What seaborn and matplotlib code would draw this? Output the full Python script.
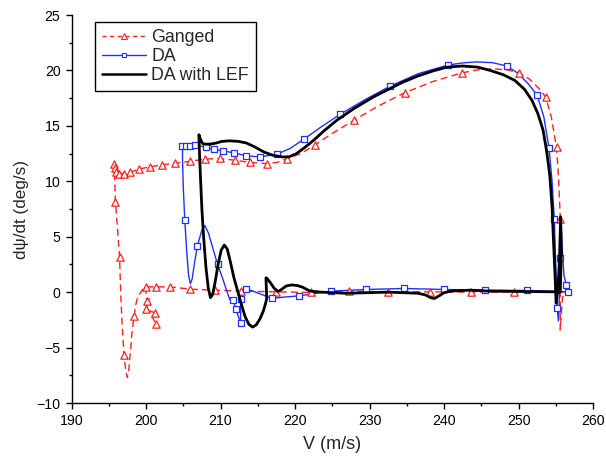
import matplotlib
matplotlib.use("Agg")
import matplotlib.pyplot as plt
from matplotlib.lines import Line2D
from matplotlib.ticker import MultipleLocator
import seaborn as sns

# ---------------- data ----------------
# Ganged: dashed path (main loop) and a small zig-zag branch
gang_line_v = [195.74, 195.8, 196.0, 196.4, 197.1, 197.85, 199.06, 200.5, 202.15, 203.9,
               205.9, 207.9, 209.9, 211.9, 214.0, 216.2, 217.6, 218.9, 220.8, 222.7,
               225.2, 227.9, 231.2, 234.7, 238.5, 242.4, 244.5, 246.5, 248.5, 250.1,
               251.5, 252.7, 253.65, 254.4, 255.1, 255.4, 255.6, 255.6, 255.6, 255.9,
               256.2, 255.0, 249.4, 243.6, 238.1, 232.5, 227.3, 222.1, 217.5, 212.8,
               209.3, 205.9, 203.2, 201.3, 199.96, 199.5, 198.9, 198.6, 198.4, 198.1,
               197.85, 197.65, 197.5, 197.3, 197.05, 196.8, 196.6, 196.45, 196.2, 195.9,
               195.8, 195.74]
gang_line_p = [11.52, 11.2, 10.8, 10.7, 10.7, 10.8, 11.1, 11.3, 11.48, 11.63,
               11.8, 12.0, 12.06, 11.9, 11.7, 11.6, 11.7, 12.03, 12.5, 13.3,
               14.4, 15.5, 16.8, 17.98, 19.0, 19.78, 20.05, 20.15, 20.05, 19.78,
               19.2, 18.4, 17.6, 15.8, 13.05, 10.0, 6.6, 2.0, -3.4, -0.5,
               0.0, 0.0, 0.03, 0.0, 0.03, 0.03, 0.09, -0.03, 0.03, 0.09,
               0.18, 0.27, 0.48, 0.48, 0.48, 0.2, -0.42, -1.2, -2.14, -3.8,
               -5.8, -7.3, -7.7, -7.2, -5.68, -3.0, 0.0, 3.18, 5.5, 8.15,
               10.0, 11.52]
gang_zig_v = [199.96, 200.0, 200.1, 200.6, 199.96, 201.2, 200.8, 201.3]
gang_zig_p = [0.48, -0.2, -0.78, -0.55, -1.56, -1.86, -2.2, -2.83]
gang_mark_v = [195.74, 195.8, 196.0, 196.4, 197.1, 197.85, 199.06, 200.5, 202.15, 203.9,
               205.9, 207.9, 209.9, 211.9, 214.0, 216.2, 218.9, 222.7, 227.9, 234.7,
               242.4, 250.1, 253.65, 255.1, 255.6, 249.4, 243.6, 238.1, 232.5, 227.3,
               222.1, 217.5, 212.8, 209.3, 205.9, 203.2, 201.3, 199.96, 198.4, 197.05,
               196.45, 195.9, 200.1, 199.96, 201.2, 201.3]
gang_mark_p = [11.52, 11.2, 10.8, 10.7, 10.7, 10.8, 11.1, 11.3, 11.48, 11.63,
               11.8, 12.0, 12.06, 11.9, 11.7, 11.6, 12.03, 13.3, 15.5, 17.98,
               19.78, 19.78, 17.6, 13.05, 6.6, 0.03, 0.0, 0.03, 0.03, 0.09,
               -0.03, 0.03, 0.09, 0.18, 0.27, 0.48, 0.48, 0.48, -2.14, -5.68,
               3.18, 8.15, -0.78, -1.56, -1.86, -2.83]

# DA
da_line_v = [204.9, 205.4, 205.9, 206.6, 208.1, 209.1, 210.4, 211.85, 213.45, 215.3,
             217.6, 219.3, 221.2, 223.5, 226.1, 229.5, 232.75, 236.5, 240.5, 242.5,
             244.4, 246.5, 248.5, 250.0, 251.3, 252.5, 253.4, 254.1, 254.5, 254.8,
             255.0, 255.2, 255.35, 255.45, 255.6, 255.75, 255.9, 256.1, 256.4, 256.7,
             251.2, 245.5, 240.0, 234.6, 229.5, 224.8, 220.6, 218.5, 216.9, 215.5,
             214.6, 213.45, 213.0, 212.75, 212.7, 212.7, 212.4, 212.05, 211.7, 211.5,
             211.2, 210.8, 210.2, 209.6, 209.0, 208.4, 207.9, 207.5, 206.9, 206.5,
             206.2, 205.95, 205.7, 205.45, 205.2, 205.0, 204.9, 204.9]
da_line_p = [13.1, 13.17, 13.2, 13.28, 13.05, 12.88, 12.75, 12.55, 12.3, 12.2,
             12.45, 12.95, 13.8, 14.9, 16.06, 17.4, 18.58, 19.7, 20.48, 20.68,
             20.77, 20.7, 20.39, 19.7, 18.8, 17.77, 15.8, 12.96, 10.0, 6.58,
             2.5, -1.47, -2.6, -1.0, 3.04, 5.8, 3.5, 1.5, 0.69, 0.03,
             0.15, 0.18, 0.24, 0.33, 0.24, 0.09, -0.33, -0.45, -0.57, -0.2,
             0.03, 0.3, 0.15, -0.3, -0.63, -2.74, -2.2, -1.53, -0.72, -0.85,
             -0.6, 0.2, 1.4, 2.5, 3.9, 5.3, 6.0, 5.6, 4.18, 2.6,
             1.2, 0.75, 1.6, 3.8, 6.55, 9.5, 12.0, 13.1]
da_mark_v = [204.85, 205.4, 205.9, 206.6, 208.1, 209.1, 210.4, 211.85, 213.45, 215.3,
             217.6, 221.2, 226.1, 232.75, 240.5, 248.5, 252.5, 254.1, 254.8, 255.2,
             255.6, 256.4, 256.7, 251.2, 245.5, 240.0, 234.6, 229.5, 224.8, 220.6,
             216.9, 213.45, 212.7, 212.7, 212.05, 211.7, 209.6, 206.9, 205.2]
da_mark_p = [13.2, 13.17, 13.2, 13.28, 13.05, 12.88, 12.75, 12.55, 12.3, 12.2,
             12.45, 13.8, 16.06, 18.58, 20.48, 20.39, 17.77, 12.96, 6.58, -1.47,
             3.04, 0.69, 0.03, 0.15, 0.18, 0.24, 0.33, 0.24, 0.09, -0.33,
             -0.57, 0.3, -0.63, -2.74, -1.53, -0.72, 2.5, 4.18, 6.55]

# DA with LEF
lef_v = [208.6, 208.0, 207.6, 207.3, 207.1, 207.15, 207.3, 207.5, 207.75, 208.05,
         208.35, 208.65, 208.95, 209.3, 209.7, 210.1, 210.5, 210.9, 211.3, 211.8,
         212.3, 212.8, 213.3, 213.8, 214.3, 214.8, 215.3, 215.75, 216.05, 216.2,
         216.1, 216.3, 216.7, 217.2, 217.7, 218.2, 218.8, 219.5, 220.3, 221.0,
         222.0, 223.5, 226.9, 232.5, 236.5, 237.5, 238.2, 238.7, 239.3, 240.0,
         241.0, 243.5, 246.2, 254.7, 255.6, 255.75, 255.65, 255.5, 255.3, 255.05,
         254.9, 254.7, 254.5, 254.2, 253.8, 253.3, 252.6, 251.8, 250.8, 249.5,
         248.0, 246.2, 244.5, 242.5, 240.4, 238.5, 236.5, 234.5, 232.75, 230.5,
         228.0, 225.6, 223.8, 222.5, 221.3, 220.2, 219.2, 218.3, 217.0, 215.8,
         214.6, 213.5, 212.4, 211.2, 210.2, 209.4, 208.6]
lef_p = [13.35, 13.35, 13.4, 13.8, 14.2, 13.0, 10.5, 7.5, 4.8, 2.2,
         0.4, -0.5, -0.2, 1.0, 2.6, 3.8, 4.25, 3.9, 2.8, 1.3,
         0.1, -1.1, -2.2, -2.9, -3.15, -2.95, -2.4, -1.7, -1.0, -0.6,
         1.3, 1.2, 0.85, 0.35, 0.05, 0.25, 0.55, 0.65, 0.6, 0.45,
         0.1, 0.0, -0.1, 0.0, -0.1, -0.25, -0.5, -0.57, -0.35, -0.05,
         0.1, 0.18, 0.09, 0.03, 0.0, 3.5, 6.8, 3.0, 0.5, -1.0,
         1.5, 4.5, 7.7, 10.5, 12.6, 14.6, 16.1, 17.3, 18.3, 19.1,
         19.6, 20.0, 20.3, 20.4, 20.3, 19.95, 19.5, 18.95, 18.37, 17.6,
         16.6, 15.5, 14.5, 13.7, 13.05, 12.5, 12.2, 12.2, 12.35, 12.65,
         13.1, 13.45, 13.6, 13.65, 13.6, 13.45, 13.35]

x_ticks = [190, 200, 210, 220, 230, 240, 250, 260]
y_ticks = [-10, -5, 0, 5, 10, 15, 20, 25]
labels = ["Ganged", "DA", "DA with LEF"]

# ---------------- plotting ----------------
sns.set_style("ticks")
plt.rcParams["font.family"] = ["Liberation Sans", "DejaVu Sans"]

fig = plt.figure(figsize=(6.06, 4.62), dpi=100)
ax = fig.add_axes([0.118, 0.1277, 0.8606, 0.8398])

red = "#ff2020"
blue = "#2030ff"

sns.lineplot(x=gang_line_v, y=gang_line_p, sort=False, estimator=None, ax=ax,
             color=red, lw=1.0, linestyle=(0, (5, 3)))
sns.lineplot(x=gang_zig_v, y=gang_zig_p, sort=False, estimator=None, ax=ax,
             color=red, lw=1.0, linestyle=(0, (5, 3)))
sns.scatterplot(x=gang_mark_v, y=gang_mark_p, ax=ax, marker="^", s=28,
                facecolor="white", edgecolor=red, linewidth=0.9, zorder=3)

sns.lineplot(x=da_line_v, y=da_line_p, sort=False, estimator=None, ax=ax,
             color=blue, lw=1.0)
sns.scatterplot(x=da_mark_v, y=da_mark_p, ax=ax, marker="s", s=24,
                facecolor="white", edgecolor=blue, linewidth=0.9, zorder=4)

sns.lineplot(x=lef_v, y=lef_p, sort=False, estimator=None, ax=ax,
             color="black", lw=2.0, zorder=5)

ax.set_xlim(190, 260)
ax.set_ylim(-10, 25)
ax.set_xticks(x_ticks)
ax.set_yticks(y_ticks)
ax.xaxis.set_minor_locator(MultipleLocator(5))
ax.yaxis.set_minor_locator(MultipleLocator(2.5))
ax.tick_params(which="major", direction="out", length=4.5, width=1.0, labelsize=10.2,
               color="black", labelcolor="black")
ax.tick_params(which="minor", direction="out", length=2.5, width=1.0, color="black")
for s in ["top", "right"]:
    ax.spines[s].set_visible(False)
for s in ["left", "bottom"]:
    ax.spines[s].set_linewidth(1.0)
    ax.spines[s].set_color("black")

ax.set_xlabel("V (m/s)", fontsize=13, labelpad=6)
ax.set_ylabel("dψ/dt (deg/s)", fontsize=12.3, labelpad=5)

handles = [
    Line2D([], [], color=red, lw=1.0, linestyle=(0, (3, 2.5)), marker="^", markersize=4,
           markerfacecolor="white", markeredgecolor=red, markeredgewidth=0.8),
    Line2D([], [], color=blue, lw=1.0, marker="s", markersize=3.5,
           markerfacecolor="white", markeredgecolor=blue, markeredgewidth=0.8),
    Line2D([], [], color="black", lw=1.8),
]
leg = ax.legend(handles, labels, loc="upper left", bbox_to_anchor=(0.045, 0.982),
                borderaxespad=0, fontsize=12.8, frameon=True, fancybox=False,
                framealpha=1, edgecolor="black", handlelength=2.45, handletextpad=0.3,
                labelspacing=0.1, borderpad=0.42)
leg.get_frame().set_linewidth(1.0)

fig.savefig("out.png", dpi=100)
